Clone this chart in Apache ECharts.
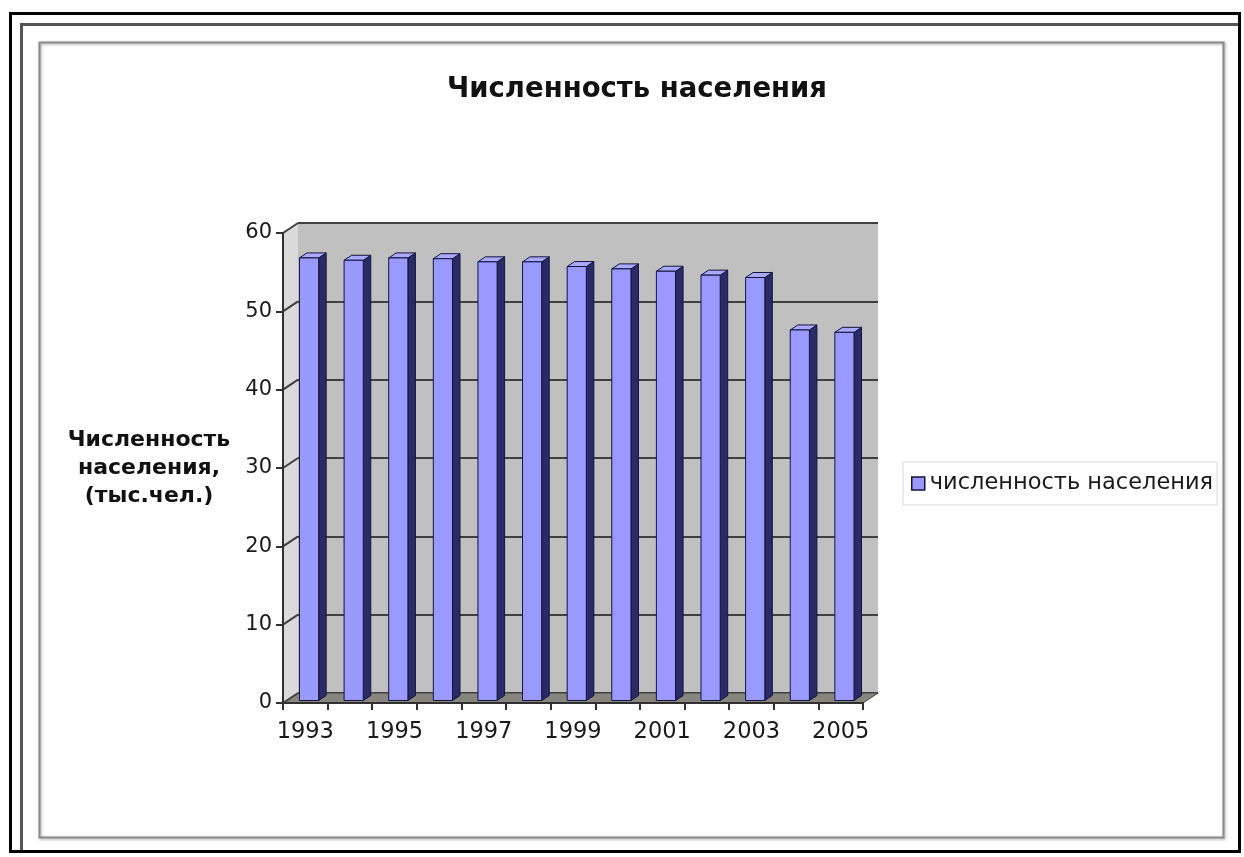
<!DOCTYPE html>
<html>
<head>
<meta charset="utf-8">
<script src="https://cdn.jsdelivr.net/npm/echarts@6/dist/echarts.min.js"></script>
<style>
  html, body { margin: 0; padding: 0; background: #ffffff; }
  #chart { width: 1244px; height: 857px; }
</style>
</head>
<body>
<div id="chart"></div>
<script>
// Population by year, thousands of people
const years = ['1993', '1994', '1995', '1996', '1997', '1998', '1999', '2000', '2001', '2002', '2003', '2004', '2005'];
const population = [56.5, 56.2, 56.5, 56.4, 56.0, 56.0, 55.4, 55.1, 54.8, 54.3, 54.0, 47.3, 47.0];
const yTicks = [0, 10, 20, 30, 40, 50, 60];

const titleText = 'Численность населения';
const seriesName = 'численность населения';
const yAxisTitle = 'Численность\nнаселения,\n(тыс.чел.)';

// Pseudo-3D depth of the plot box (pixels right / up from the front plane)
const DEPTH = [15, -10];
const BAR_FRONT = 0.25;
const BAR_BACK = 0.75;
const BAR_RATIO = 0.43;
const FONT = "'DejaVu Sans', Verdana, sans-serif";

const Y_MIN = yTicks[0];
const Y_MAX = yTicks[yTicks.length - 1];
const Y_STEP = yTicks[1] - yTicks[0];

// Column drawn as front face, right side and top cap
function renderColumn(params, api) {
  const i = api.value(0);
  const v = api.value(1);
  const top = api.coord([i, v]);
  const base = api.coord([i, 0]);
  const bw = api.size([1, 0])[0] * BAR_RATIO;
  const fx = DEPTH[0] * BAR_FRONT, fy = DEPTH[1] * BAR_FRONT;
  const dx = DEPTH[0] * (BAR_BACK - BAR_FRONT), dy = DEPTH[1] * (BAR_BACK - BAR_FRONT);
  const x0 = top[0] - bw / 2 + fx;
  const x1 = x0 + bw;
  const yT = top[1] + fy;
  const yB = base[1] + fy;
  const edge = '#14143c';
  return {
    type: 'group',
    children: [
      { type: 'polygon', shape: { points: [[x1, yT], [x1 + dx, yT + dy], [x1 + dx, yB + dy], [x1, yB]] },
        style: { fill: '#2a2a66', stroke: edge, lineWidth: 1 } },
      { type: 'polygon', shape: { points: [[x0, yT], [x0 + dx, yT + dy], [x1 + dx, yT + dy], [x1, yT]] },
        style: { fill: '#a9a9ff', stroke: edge, lineWidth: 1 } },
      { type: 'rect', shape: { x: x0, y: yT, width: bw, height: yB - yT },
        style: { fill: '#9999ff', stroke: edge, lineWidth: 1 } }
    ]
  };
}

// Floor, side wall and the wall segments of the value gridlines
function renderBox(params, api) {
  const band = api.size([1, 0])[0];
  const first = api.coord([0, Y_MIN]);
  const last = api.coord([years.length - 1, Y_MIN]);
  const left = first[0] - band / 2;
  const right = last[0] + band / 2;
  const yBase = first[1];
  const yTop = api.coord([0, Y_MAX])[1];
  const [dx, dy] = DEPTH;
  const children = [
    { type: 'polygon', shape: { points: [[left, yTop], [left + dx, yTop + dy], [left + dx, yBase + dy], [left, yBase]] },
      style: { fill: '#dadada', stroke: null } },
    { type: 'polygon', shape: { points: [[left, yBase], [right, yBase], [right + dx, yBase + dy], [left + dx, yBase + dy]] },
      style: { fill: '#86867e', stroke: '#404040', lineWidth: 1 } }
  ];
  yTicks.forEach(t => {
    const y = api.coord([0, t])[1];
    children.push({ type: 'line', shape: { x1: left, y1: y, x2: left + dx, y2: y + dy },
      style: { stroke: '#404040', lineWidth: 2 } });
  });
  return { type: 'group', children };
}

const chart = echarts.init(document.getElementById('chart'), null, { renderer: 'canvas' });

const FRONT = { left: 283, top: 233, width: 580, height: 470 };
const BACK = { left: FRONT.left + DEPTH[0], top: FRONT.top + DEPTH[1], width: FRONT.width, height: FRONT.height };

chart.setOption({
  backgroundColor: '#ffffff',
  animation: false,
  textStyle: { fontFamily: FONT },
  title: {
    text: titleText,
    left: 632,
    top: 71,
    textAlign: 'center',
    textStyle: { fontFamily: FONT, fontSize: 27.5, fontWeight: 'bold', color: '#111111' }
  },
  legend: {
    data: [{ name: seriesName, icon: 'rect' }],
    left: 903,
    top: 462,
    padding: [10, 4, 10, 8],
    itemWidth: 13,
    itemHeight: 13,
    itemGap: 6,
    backgroundColor: '#ffffff',
    borderColor: '#d8d8d8',
    borderWidth: 1,
    itemStyle: { borderColor: '#14143c', borderWidth: 1.5 },
    textStyle: { fontFamily: FONT, fontSize: 22.5, color: '#1a1a1a', padding: [0, 0, 0, 0] }
  },
  graphic: [
    { type: 'rect', silent: true, shape: { x: 10.5, y: 13.5, width: 1229, height: 838 },
      style: { fill: null, stroke: '#000000', lineWidth: 3 } },
    { type: 'polyline', silent: true, shape: { points: [[21.5, 850], [21.5, 24.5], [1238, 24.5]] },
      style: { fill: null, stroke: '#555555', lineWidth: 3 } },
    { type: 'rect', silent: true, shape: { x: 39.5, y: 42.5, width: 1184, height: 795 },
      style: { fill: null, stroke: '#8a8a8a', lineWidth: 2, shadowBlur: 3, shadowColor: 'rgba(0,0,0,0.35)', shadowOffsetX: 1, shadowOffsetY: 1 } }
  ],
  grid: [
    Object.assign({ show: true, backgroundColor: '#c0c0c0', borderWidth: 0 }, BACK),
    Object.assign({ show: false }, FRONT)
  ],
  xAxis: [
    { type: 'category', gridIndex: 0, data: years, show: false },
    {
      type: 'category', gridIndex: 1, data: years, z: 10,
      axisLine: { show: true, lineStyle: { color: '#303030', width: 2 } },
      axisTick: { show: true, interval: 0, length: 7, lineStyle: { color: '#303030', width: 2 } },
      axisLabel: { interval: 1, fontSize: 22.5, color: '#1a1a1a', margin: 18, fontFamily: FONT },
      splitLine: { show: false }
    }
  ],
  yAxis: [
    {
      type: 'value', gridIndex: 0, min: Y_MIN, max: Y_MAX, interval: Y_STEP,
      axisLine: { show: false }, axisTick: { show: false }, axisLabel: { show: false },
      splitLine: { show: true, lineStyle: { color: '#404040', width: 2 } }
    },
    {
      type: 'value', gridIndex: 1, min: Y_MIN, max: Y_MAX, interval: Y_STEP, z: 10,
      axisLine: { show: true, lineStyle: { color: '#303030', width: 2 } },
      axisTick: { show: true, length: 7, lineStyle: { color: '#303030', width: 2 } },
      axisLabel: { fontSize: 21, color: '#1a1a1a', margin: 11, fontFamily: FONT },
      splitLine: { show: false },
      name: yAxisTitle,
      nameLocation: 'middle',
      nameRotate: 0,
      nameGap: 134,
      nameTextStyle: { fontFamily: FONT, fontSize: 22, fontWeight: 'bold', color: '#111111', align: 'center', verticalAlign: 'middle', lineHeight: 28 }
    }
  ],
  series: [
    {
      type: 'custom', name: 'box', xAxisIndex: 1, yAxisIndex: 1, z: 1, silent: true,
      renderItem: renderBox, data: [[0, 0]], encode: { x: 0, y: 1 }
    },
    {
      type: 'custom', name: seriesName, xAxisIndex: 1, yAxisIndex: 1, z: 3,
      itemStyle: { color: '#9999ff' },
      renderItem: renderColumn,
      data: years.map((y, i) => [i, population[i]]),
      encode: { x: 0, y: 1 }
    }
  ]
});
</script>
</body>
</html>
